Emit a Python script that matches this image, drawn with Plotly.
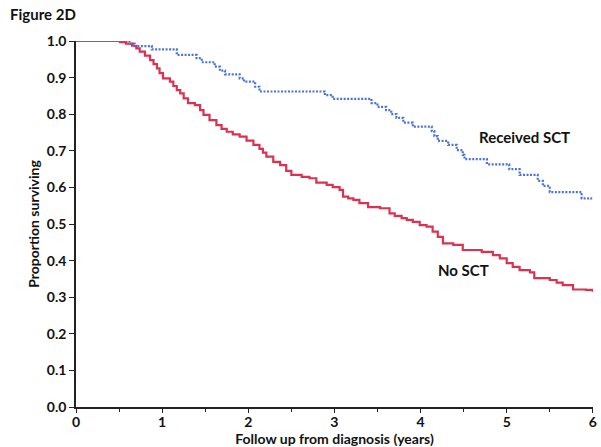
import plotly.graph_objects as go

# Received SCT (step function)
sct_t = [0.0, 0.63, 0.68, 0.88, 1.17, 1.40, 1.46, 1.61, 1.67, 1.73, 1.90, 1.95, 2.08, 2.13, 2.89, 2.98,
         3.43, 3.50, 3.60, 3.66, 3.72, 3.80, 3.91, 4.13, 4.16, 4.20, 4.32, 4.42, 4.49, 4.51,
         4.77, 5.03, 5.15, 5.36, 5.42, 5.50, 5.87, 5.98]
sct_s = [1.0, 0.993, 0.986, 0.977, 0.962, 0.953, 0.942, 0.93, 0.919, 0.909, 0.898, 0.889, 0.875, 0.862, 0.852, 0.842,
         0.83, 0.82, 0.811, 0.80, 0.79, 0.777, 0.766, 0.754, 0.74, 0.727, 0.716, 0.702, 0.689, 0.677,
         0.663, 0.65, 0.634, 0.618, 0.604, 0.587, 0.57, 0.567]

# No SCT (step function)
nosct_t = [0.0, 0.51, 0.58, 0.65, 0.70, 0.74, 0.80, 0.86, 0.90, 0.94, 0.97, 1.01, 1.09, 1.13, 1.17,
           1.21, 1.25, 1.30, 1.38, 1.44, 1.48, 1.55, 1.63, 1.69, 1.75, 1.82, 1.90, 1.98, 2.06,
           2.13, 2.17, 2.21, 2.29, 2.37, 2.44, 2.50, 2.62, 2.71, 2.79, 2.91, 2.98, 3.06,
           3.10, 3.16, 3.22, 3.29, 3.39, 3.53, 3.64, 3.70, 3.78, 3.84, 3.91, 3.99, 4.07, 4.14,
           4.20, 4.26, 4.38, 4.49, 4.71, 4.84, 4.92, 5.00, 5.07, 5.15, 5.27, 5.32,
           5.50, 5.58, 5.65, 5.77, 5.92, 6.0]
nosct_s = [1.0, 0.997, 0.993, 0.987, 0.98, 0.971, 0.96, 0.948, 0.937, 0.925, 0.912, 0.898, 0.889, 0.877, 0.866,
           0.857, 0.843, 0.83, 0.825, 0.811, 0.798, 0.784, 0.77, 0.76, 0.752, 0.745, 0.739, 0.728, 0.716,
           0.705, 0.695, 0.684, 0.67, 0.661, 0.645, 0.634, 0.629, 0.625, 0.613, 0.607, 0.601, 0.593,
           0.575, 0.57, 0.566, 0.557, 0.546, 0.543, 0.529, 0.522, 0.516, 0.511, 0.506, 0.497, 0.493, 0.479,
           0.465, 0.447, 0.443, 0.429, 0.424, 0.415, 0.406, 0.393, 0.383, 0.374, 0.368, 0.352,
           0.347, 0.34, 0.333, 0.321, 0.32, 0.315]

x_ticks = [0, 1, 2, 3, 4, 5, 6]
y_ticks = [0.0, 0.1, 0.2, 0.3, 0.4, 0.5, 0.6, 0.7, 0.8, 0.9, 1.0]
y_labels = [f"{v:.1f}" for v in y_ticks]

RED = "#dc3252"
BLUE = "#4a73d8"
FONT = "Lato"

fig = go.Figure()
fig.add_trace(go.Scatter(x=nosct_t, y=nosct_s, mode="lines", line=dict(color=RED, width=2.2, shape="hv"),
                         name="No SCT", showlegend=False, cliponaxis=False))
fig.add_trace(go.Scatter(x=sct_t, y=sct_s, mode="lines",
                         line=dict(color=BLUE, width=2.2, shape="hv", dash="2px,1.5px"),
                         name="Received SCT", showlegend=False))
# solid initial segment at 1.0
fig.add_trace(go.Scatter(x=[sct_t[0], sct_t[1]], y=[sct_s[0], sct_s[0]], mode="lines",
                         line=dict(color="#6a5ccc", width=1.2), showlegend=False, cliponaxis=False))

fig.add_annotation(x=5.21, y=0.738, text="<b>Received SCT</b>", showarrow=False,
                   font=dict(family=FONT, size=15, color="#111"))
fig.add_annotation(x=4.5, y=0.374, text="<b>No SCT</b>", showarrow=False,
                   font=dict(family=FONT, size=15, color="#111"))

ML, MR, MT, MB = 76, 8, 41, 40
W, H = 601, 447
PLOT_W = W - ML - MR
PLOT_H = H - MT - MB
fig.add_annotation(xref="paper", yref="paper", x=-(ML - 8) / PLOT_W, y=1 + (MT - 14) / PLOT_H,
                   xanchor="left", yanchor="middle",
                   text="<b>Figure 2D</b>", showarrow=False, font=dict(family=FONT, size=15, color="#111"))

fig.update_layout(
    width=W, height=H,
    margin=dict(l=ML, r=MR, t=MT, b=MB, autoexpand=False),
    plot_bgcolor="white", paper_bgcolor="white",
    font=dict(family=FONT, size=14, color="#111"),
    xaxis=dict(range=[0, 6.002], tickvals=x_ticks, ticktext=[f"<b>{v}</b>" for v in x_ticks],
               automargin=False, ticklabeloverflow="allow", ticklabelstandoff=-3,
               showgrid=False, zeroline=False, showline=True, linecolor="#222", linewidth=1.5,
               ticks="outside", ticklen=4, tickcolor="#222", tickwidth=1.2,
               minor=dict(tickvals=[0.5, 1.5, 2.5, 3.5, 4.5, 5.5], ticks="outside", ticklen=3, tickcolor="#222"),
               title=dict(text="<b>Follow up from diagnosis (years)</b>", font=dict(size=14), standoff=2)),
    yaxis=dict(range=[0, 1.0], tickvals=y_ticks, ticktext=[f"<b>{t}</b>" for t in y_labels],
               automargin=False, ticklabeloverflow="allow",
               showgrid=False, zeroline=False, showline=True, linecolor="#222", linewidth=1.5,
               ticks="outside", ticklen=5, tickcolor="#222", tickwidth=1.2,
               title=dict(text="<b>Proportion surviving</b>", font=dict(size=14), standoff=4)),
)
# remove the default page margin so the 601x447 figure fills the window exactly
fig.write_html("out.html", config={"displayModeBar": False},
               post_script="document.body.style.margin='0px';document.body.style.overflow='hidden';")
